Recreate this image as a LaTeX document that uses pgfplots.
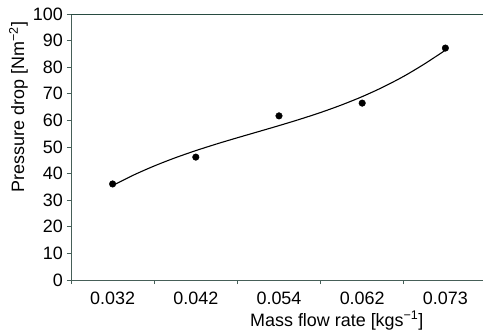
\documentclass[border=0pt]{standalone}
\usepackage{pgfplots}
\pgfplotsset{compat=1.18}
\usepackage{fontspec}
\setmainfont{Liberation Sans}
\definecolor{axc}{RGB}{70,95,88}
\definecolor{topc}{RGB}{40,75,65}
\begin{document}
\begin{tikzpicture}[x=1bp,y=1bp]
\begin{axis}[
  scale only axis,
  width=416bp, height=266bp,
  xmin=0.5, xmax=5.5,
  ymin=0, ymax=100,
  axis x line*=bottom,
  axis y line*=left,
  axis line style={draw=axc, line width=0.8pt},
  xtick={1,2,3,4,5},
  xticklabels={0.032,0.042,0.054,0.062,0.073},
  minor xtick={0.5,1.5,2.5,3.5,4.5},
  major x tick style={draw=none},
  minor x tick style={draw=axc, line width=0.8pt},
  minor tick length=4bp,
  ytick={0,10,...,100},
  major y tick style={draw=axc, line width=0.8pt},
  major tick length=4bp,
  tick align=outside,
  /pgf/number format/assume math mode=true,
  tick label style={font=\fontsize{18}{20}\selectfont, text=black},
  yticklabel style={inner sep=0pt, xshift=-4bp},
  xticklabel style={inner sep=0pt, yshift=-8bp},
  xlabel={Mass flow rate [kgs\textsuperscript{−1}]},
  ylabel={Pressure drop [Nm\textsuperscript{−2}]},
  every axis x label/.style={at={(axis description cs:0.639,0)}, anchor=north, inner sep=0pt, yshift=-31bp, font=\fontsize{18}{20}\selectfont},
  every axis y label/.style={at={(axis description cs:0,0.65)}, anchor=south, rotate=90, inner sep=0pt, yshift=43bp, font=\fontsize{18}{20}\selectfont},
  clip=false,
]
\draw[topc, line width=0.9pt] (rel axis cs:0,1) -- (rel axis cs:1,1);
\addplot[black, line width=1.1pt, smooth, no marks] coordinates {
  (1,35.49) (1.25,39.42) (1.5,42.86) (1.75,45.91) (2,48.64) (2.25,51.14) (2.5,53.48) (2.75,55.75)
  (3,58.04) (3.25,60.42) (3.5,62.97) (3.75,65.79) (4,68.94) (4.25,72.52) (4.5,76.59) (4.75,81.26) (5,86.4)
};
\addplot[only marks, mark=*, mark size=3.3bp, black] coordinates {
  (1,36.1) (2,46.2) (3,61.7) (4,66.5) (5,87.2)
};
\end{axis}
\pgfresetboundingbox
\path ([shift={(-71bp,-51bp)}]current axis.south west) rectangle ([shift={(-4bp,14bp)}]current axis.north east);
\end{tikzpicture}
\end{document}
